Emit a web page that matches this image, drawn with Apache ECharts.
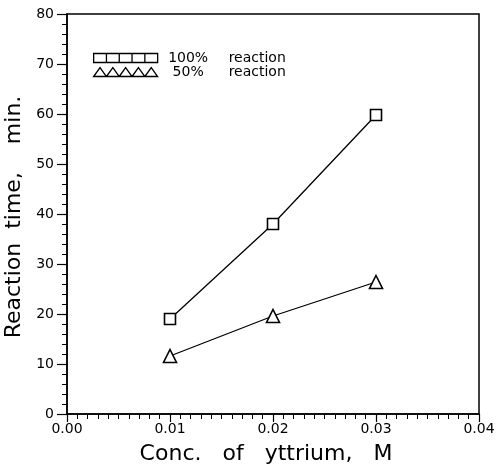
<!DOCTYPE html>
<html>
<head>
<meta charset="utf-8">
<script src="https://cdn.jsdelivr.net/npm/echarts@6/dist/echarts.min.js"></script>
<style>html,body{margin:0;padding:0;background:#fff}#c{width:500px;height:468px}</style>
</head>
<body>
<div id="c"></div>
<script>
// Data
const concentrations = [0.01, 0.02, 0.03];
const reaction100 = [19, 38, 59.8];
const reaction50 = [11.6, 19.6, 26.4];
const seriesNames = ['100% reaction', '50% reaction'];
const xTicks = { min: 0, max: 0.04, interval: 0.01 };
const yTicks = { min: 0, max: 80, interval: 10 };

const FONT = 'DejaVu Sans';
const chart = echarts.init(document.getElementById('c'), null, { renderer: 'canvas' });

function pairs(xs, ys) { return xs.map((x, i) => [x, ys[i]]); }

// five adjacent squares / five triangles for legend icons
const sqIcon = 'path://M0,0H128V90H0Z M128,0H256V90H128Z M256,0H384V90H256Z M384,0H512V90H384Z M512,0H640V90H512Z';
const triIcon = 'path://M0,90L64,0L128,90Z M128,90L192,0L256,90Z M256,90L320,0L384,90Z M384,90L448,0L512,90Z M512,90L576,0L640,90Z';

chart.setOption({
  animation: false,
  backgroundColor: '#fff',
  grid: { left: 67, right: 21, top: 14, bottom: 54, show: true, borderColor: '#000', borderWidth: 1.5, backgroundColor: 'transparent', containLabel: false, outerBoundsMode: 'none' },
  legend: {
    orient: 'vertical', left: 93, top: 51, itemGap: 0, itemWidth: 64, itemHeight: 9,
    padding: 0,
    data: [
      { name: seriesNames[0], icon: sqIcon },
      { name: seriesNames[1], icon: triIcon }
    ],
    itemStyle: { color: '#fff', borderColor: '#000', borderWidth: 1.3 },
    formatter: function (n) {
      const parts = n.split(' ');
      return '{p|' + parts[0] + '}{r|' + parts.slice(1).join(' ') + '}';
    },
    textStyle: {
      fontFamily: FONT, fontSize: 14, color: '#000', lineHeight: 12,
      rich: {
        p: { width: 51, align: 'right', fontFamily: FONT, fontSize: 14, color: '#000', lineHeight: 12 },
        r: { padding: [0, 0, 0, 15], fontFamily: FONT, fontSize: 14, color: '#000', lineHeight: 12 }
      }
    }
  },
  xAxis: {
    type: 'value', min: xTicks.min, max: xTicks.max, interval: xTicks.interval,
    name: 'Conc.   of   yttrium,   M', nameLocation: 'middle', nameGap: 29,
    nameTextStyle: { fontFamily: FONT, fontSize: 22, color: '#000', padding: [0, 14, 0, 0] },
    axisLine: { show: true, lineStyle: { color: '#000', width: 1.5 } },
    axisTick: { show: true, inside: false, length: 8, lineStyle: { color: '#000', width: 1.2 } },
    minorTick: { show: true, splitNumber: 10, length: 5, lineStyle: { color: '#000', width: 1 } },
    splitLine: { show: false },
    axisLabel: { fontFamily: FONT, fontSize: 14, color: '#000', margin: 8, formatter: v => v.toFixed(2) }
  },
  yAxis: {
    type: 'value', min: yTicks.min, max: yTicks.max, interval: yTicks.interval,
    name: 'Reaction  time,    min.', nameLocation: 'middle', nameGap: 31,
    nameTextStyle: { fontFamily: FONT, fontSize: 22, color: '#000', padding: [0, 6, 0, 0] },
    axisLine: { show: true, lineStyle: { color: '#000', width: 1.5 } },
    axisTick: { show: true, inside: false, length: 10, lineStyle: { color: '#000', width: 1.2 } },
    minorTick: { show: true, splitNumber: 5, length: 5, lineStyle: { color: '#000', width: 1 } },
    splitLine: { show: false },
    axisLabel: { fontFamily: FONT, fontSize: 14, color: '#000', margin: 13 }
  },
  series: [
    {
      name: seriesNames[0], type: 'line', data: pairs(concentrations, reaction100),
      symbol: 'rect', symbolSize: 11,
      lineStyle: { color: '#000', width: 1.3 },
      itemStyle: { color: '#fff', borderColor: '#000', borderWidth: 1.6 }
    },
    {
      name: seriesNames[1], type: 'line', data: pairs(concentrations, reaction50),
      symbol: 'triangle', symbolSize: 13,
      lineStyle: { color: '#000', width: 1.3 },
      itemStyle: { color: '#fff', borderColor: '#000', borderWidth: 1.6 }
    }
  ]
});
</script>
</body>
</html>
